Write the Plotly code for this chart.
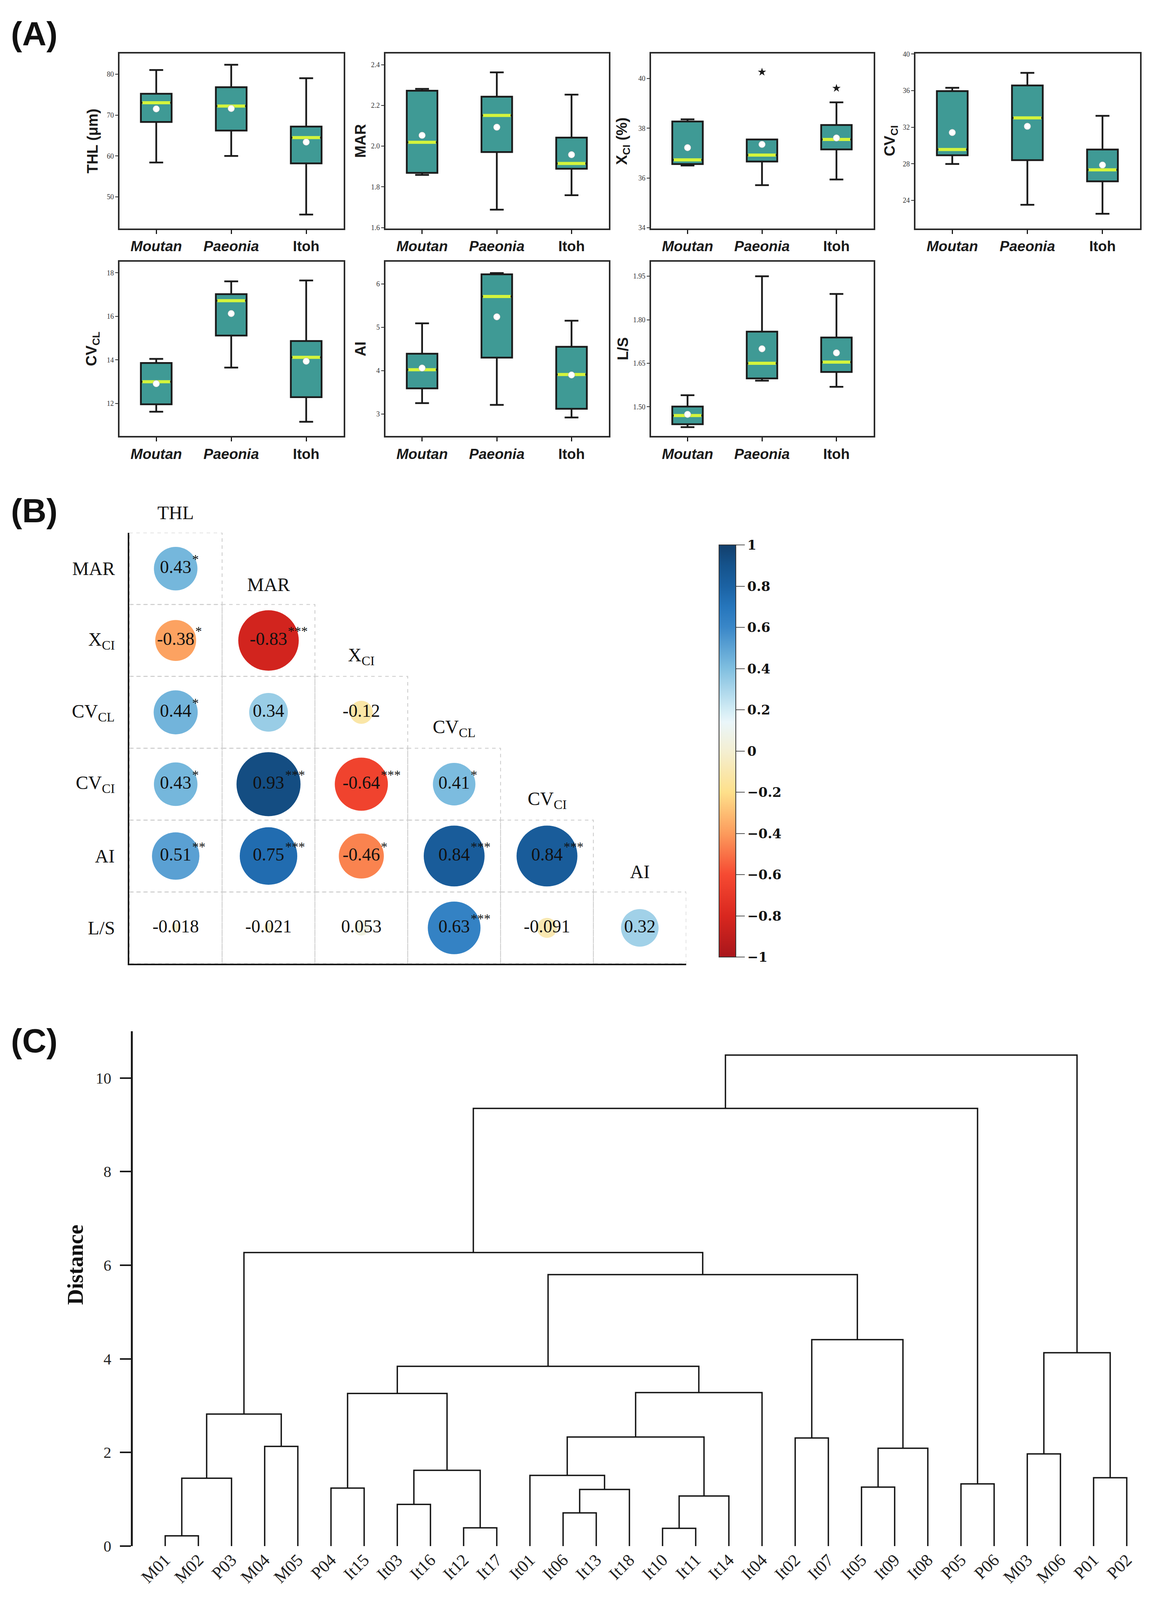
import math
import plotly.graph_objects as go

W, H = 2965, 4242


def fx(p):
    return p / W


def fy(p):
    return 1 - p / H


# ---------------- Panel A data (box statistics: Moutan, Paeonia, Itoh) ----------------
groups = ["Moutan", "Paeonia", "Itoh"]
group_ticktext = ["<b><i>Moutan</i></b>", "<b><i>Paeonia</i></b>", "<b>Itoh</b>"]

THL_lo = [58.4, 60.0, 45.7]
THL_q1 = [68.3, 66.2, 58.2]
THL_med = [73.0, 72.2, 64.5]
THL_q3 = [75.2, 76.8, 67.2]
THL_hi = [81.0, 82.3, 79.0]
THL_mean = [71.5, 71.6, 63.4]

MAR_lo = [1.859, 1.688, 1.759]
MAR_q1 = [1.869, 1.971, 1.889]
MAR_med = [2.019, 2.151, 1.915]
MAR_q3 = [2.272, 2.243, 2.042]
MAR_hi = [2.281, 2.362, 2.253]
MAR_mean = [2.053, 2.093, 1.958]

XCI_lo = [36.50, 35.71, 35.94]
XCI_q1 = [36.56, 36.66, 37.15]
XCI_med = [36.73, 36.92, 37.55]
XCI_q3 = [38.27, 37.55, 38.13]
XCI_hi = [38.36, 37.55, 39.04]
XCI_mean = [37.22, 37.35, 37.61]
XCI_out_group = [1, 2]
XCI_out_val = [40.26, 39.61]

CVCI_lo = [27.99, 23.52, 22.54]
CVCI_q1 = [28.93, 28.40, 26.09]
CVCI_med = [29.56, 33.02, 27.34]
CVCI_q3 = [35.95, 36.57, 29.56]
CVCI_hi = [36.31, 37.94, 33.25]
CVCI_mean = [31.42, 32.10, 27.87]

CVCL_lo = [11.62, 13.65, 11.16]
CVCL_q1 = [11.96, 15.12, 12.29]
CVCL_med = [13.00, 16.72, 14.12]
CVCL_q3 = [13.86, 17.02, 14.87]
CVCL_hi = [14.05, 17.61, 17.65]
CVCL_mean = [12.91, 16.13, 13.94]

AI_lo = [3.25, 3.21, 2.92]
AI_q1 = [3.59, 4.30, 3.12]
AI_med = [4.02, 5.71, 3.91]
AI_q3 = [4.39, 6.22, 4.55]
AI_hi = [5.09, 6.25, 5.15]
AI_mean = [4.06, 5.24, 3.90]

LS_lo = [1.430, 1.590, 1.569]
LS_q1 = [1.440, 1.598, 1.620]
LS_med = [1.470, 1.650, 1.654]
LS_q3 = [1.501, 1.759, 1.739]
LS_hi = [1.540, 1.950, 1.889]
LS_mean = [1.474, 1.700, 1.686]

# ---------------- Panel B data (correlation, lower triangle) ----------------
corr_rows = ["MAR", "X<sub>CI</sub>", "CV<sub>CL</sub>", "CV<sub>CI</sub>", "AI", "L/S"]
corr_cols = ["THL", "MAR", "X<sub>CI</sub>", "CV<sub>CL</sub>", "CV<sub>CI</sub>", "AI"]
corr_MAR = [0.43]
corr_XCI = [-0.38, -0.83]
corr_CVCL = [0.44, 0.34, -0.12]
corr_CVCI = [0.43, 0.93, -0.64, 0.41]
corr_AI = [0.51, 0.75, -0.46, 0.84, 0.84]
corr_LS = [-0.018, -0.021, 0.053, 0.63, -0.091, 0.32]
sig_MAR = ["*"]
sig_XCI = ["*", "***"]
sig_CVCL = ["*", "", ""]
sig_CVCI = ["*", "***", "***", "*"]
sig_AI = ["**", "***", "*", "***", "***"]
sig_LS = ["", "", "", "***", "", ""]
colorbar_ticks = [1, 0.8, 0.6, 0.4, 0.2, 0, -0.2, -0.4, -0.6, -0.8, -1]
colorbar_ticktext = ["1", "0.8", "0.6", "0.4", "0.2", "0", "−0.2", "−0.4", "−0.6", "−0.8", "−1"]

# ---------------- Panel C data (dendrogram) ----------------
leaves = ["M01", "M02", "P03", "M04", "M05", "P04", "It15", "It03", "It16", "It12",
          "It17", "It01", "It06", "It13", "It18", "It10", "It11", "It14", "It04", "It02",
          "It07", "It05", "It09", "It08", "P05", "P06", "M03", "M06", "P01", "P02"]
merge_left = ["M01", "#0", "M04", "#1", "P04", "It03", "It12", "#5", "#4", "It06",
              "#9", "It01", "It10", "#12", "#11", "#14", "#8", "It02", "It05", "#18",
              "#17", "#16", "#3", "P05", "#22", "M03", "P01", "#25", "#24"]
merge_right = ["M02", "P03", "M05", "#2", "It15", "It16", "It17", "#6", "#7", "It13",
               "It18", "#10", "It11", "It14", "#13", "It04", "#15", "It07", "It09", "It08",
               "#19", "#20", "#21", "P06", "#23", "M06", "P02", "#26", "#27"]
merge_height = [0.22, 1.45, 2.13, 2.82, 1.24, 0.89, 0.39, 1.62, 3.26, 0.71,
                1.21, 1.51, 0.38, 1.07, 2.33, 3.28, 3.84, 2.31, 1.26, 2.09,
                4.41, 5.80, 6.27, 1.33, 9.35, 1.97, 1.46, 4.13, 10.49]

TEAL = "#3f9a95"
MEDIAN_COL = "#d4f43c"
INK = "#1a1a1a"

fig = go.Figure()
layout = dict(width=W, height=H, margin=dict(l=0, r=0, t=0, b=0),
              paper_bgcolor="white", plot_bgcolor="white", showlegend=False)
annotations = []
shapes = []

# ---------------- Panel A ----------------
col_px = [(306, 880), (987, 1559), (1667, 2237), (2344, 2919)]
title_px = [237, 923, 1595, 2281]
row_px = [(134, 601), (690, 1156)]

panels = [
    ("THL (μm)", THL_lo, THL_q1, THL_med, THL_q3, THL_hi, THL_mean, None, None, (42.3, 85.0), 50, 10, "d", 0, 0),
    ("MAR", MAR_lo, MAR_q1, MAR_med, MAR_q3, MAR_hi, MAR_mean, None, None, (1.596, 2.454), 1.6, 0.2, ".1f", 0, 1),
    ("X<sub>CI</sub> (%)", XCI_lo, XCI_q1, XCI_med, XCI_q3, XCI_hi, XCI_mean, XCI_out_group, XCI_out_val, (33.97, 41.0), 34, 2, "d", 0, 2),
    ("CV<sub>CI</sub>", CVCI_lo, CVCI_q1, CVCI_med, CVCI_q3, CVCI_hi, CVCI_mean, None, None, (20.94, 40.04), 24, 4, "d", 0, 3),
    ("CV<sub>CL</sub>", CVCL_lo, CVCL_q1, CVCL_med, CVCL_q3, CVCL_hi, CVCL_mean, None, None, (10.5, 18.51), 12, 2, "d", 1, 0),
    ("AI", AI_lo, AI_q1, AI_med, AI_q3, AI_hi, AI_mean, None, None, (2.49, 6.51), 3, 1, "d", 1, 1),
    ("L/S", LS_lo, LS_q1, LS_med, LS_q3, LS_hi, LS_mean, None, None, (1.399, 2.0), 1.5, 0.15, ".2f", 1, 2),
]

xpos = list(range(len(groups)))
BOX_W = 0.41
for k, (title, lo, q1, med, q3, hi, mean, og, ov, yr, t0, dt, tf, r, c) in enumerate(panels, start=1):
    xa, ya = f"x{k}", f"y{k}"
    fig.add_trace(go.Box(x=xpos, q1=q1, median=med, q3=q3, lowerfence=lo, upperfence=hi,
                         fillcolor=TEAL, line=dict(color=INK, width=4.5), width=BOX_W,
                         whiskerwidth=0.45, boxpoints=False, hoverinfo="skip",
                         xaxis=xa, yaxis=ya))
    mx, my = [], []
    for i, m in zip(xpos, med):
        mx += [i - BOX_W / 2 + 0.02, i + BOX_W / 2 - 0.02, None]
        my += [m, m, None]
    fig.add_trace(go.Scatter(x=mx, y=my, mode="lines", line=dict(color=MEDIAN_COL, width=8),
                             hoverinfo="skip", xaxis=xa, yaxis=ya))
    fig.add_trace(go.Scatter(x=xpos, y=mean, mode="markers",
                             marker=dict(color="white", size=17, line=dict(color="#bbbbbb", width=1)),
                             hoverinfo="skip", xaxis=xa, yaxis=ya))
    if og is not None:
        fig.add_trace(go.Scatter(x=og, y=ov, mode="markers",
                                 marker=dict(color=INK, size=16, symbol="star"),
                                 hoverinfo="skip", xaxis=xa, yaxis=ya))
    x0, x1 = col_px[c]
    y0, y1 = row_px[r]
    kx = "xaxis" if k == 1 else f"xaxis{k}"
    ky = "yaxis" if k == 1 else f"yaxis{k}"
    layout[kx] = dict(domain=[fx(x0), fx(x1)], range=[-0.49, 2.5], anchor=ya,
                      tickvals=xpos, ticktext=group_ticktext,
                      tickfont=dict(family="Liberation Sans", size=37, color=INK),
                      ticks="outside", ticklen=10, tickwidth=3, tickcolor=INK,
                      showline=True, mirror=True, linecolor="#2a2a2a", linewidth=4,
                      showgrid=False, zeroline=False, fixedrange=True)
    layout[ky] = dict(domain=[fy(y1), fy(y0)], range=list(yr), anchor=xa,
                      tick0=t0, dtick=dt, tickformat=tf,
                      tickfont=dict(family="Liberation Serif", size=18, color="#333333"),
                      ticks="outside", ticklen=7, tickwidth=2, tickcolor="#333333",
                      showline=True, mirror=True, linecolor="#2a2a2a", linewidth=4,
                      showgrid=False, zeroline=False, fixedrange=True)
    annotations.append(dict(text=f"<b>{title}</b>", xref="paper", yref="paper",
                            x=fx(title_px[c]), y=fy((y0 + y1) / 2), textangle=-90,
                            xanchor="center", yanchor="middle", showarrow=False,
                            font=dict(family="Liberation Sans", size=38, color=INK)))

# ---------------- Panel B ----------------
GX0, GX1, GY0, GY1 = 331, 1757, 1414, 2566
CW, CH = (GX1 - GX0) / 6, (GY1 - GY0) / 6
corr_vals = [corr_MAR, corr_XCI, corr_CVCL, corr_CVCI, corr_AI, corr_LS]
corr_sigs = [sig_MAR, sig_XCI, sig_CVCL, sig_CVCI, sig_AI, sig_LS]
cs = [
    [0.00, "#a8161b"], [0.10, "#d9271f"], [0.20, "#f64a32"], [0.30, "#fc9b5c"],
    [0.40, "#fee08b"], [0.50, "#f4efd2"], [0.57, "#eaf6fa"], [0.60, "#d2ecf5"],
    [0.70, "#80bfe0"], [0.80, "#3a87c8"], [0.85, "#2676bc"], [0.90, "#1b62a3"],
    [0.95, "#15538c"], [1.00, "#123f6c"],
]
bx, by, bv, bs, bt = [], [], [], [], []
FONT_NUM = 46


def text_half_width(s, size):
    w = 0
    for ch in s:
        w += 0.25 if ch == "." else (0.333 if ch == "-" else 0.5)
    return w * size / 2


for r, (vals, sigs) in enumerate(zip(corr_vals, corr_sigs)):
    for c, (v, sgn) in enumerate(zip(vals, sigs)):
        bx.append(c + 0.5)
        by.append(r + 0.5)
        bv.append(v)
        bs.append(170 * math.sqrt(abs(v)))
        lab = f"{v:g}"
        bt.append(lab)
        shapes.append(dict(type="rect", xref="x8", yref="y8", x0=c, x1=c + 1, y0=r, y1=r + 1,
                           line=dict(color="#c9c9c9", width=2, dash="dash"), layer="below"))
        if sgn:
            annotations.append(dict(text=sgn, xref="x8", yref="y8", x=c + 0.5, y=r + 0.5,
                                    xanchor="left", yanchor="middle",
                                    xshift=text_half_width(lab, FONT_NUM), yshift=24,
                                    showarrow=False,
                                    font=dict(family="Liberation Serif", size=34, color="#111")))

fig.add_trace(go.Scatter(
    x=bx, y=by, mode="markers+text", text=bt, textposition="middle center",
    textfont=dict(family="Liberation Serif", size=FONT_NUM, color="#111"),
    marker=dict(size=bs, color=bv, colorscale=cs, cmin=-1, cmax=1, line=dict(width=0),
                opacity=1,
                colorbar=dict(x=fx(1841), xanchor="left", y=fy((1447 + 2548) / 2), yanchor="middle",
                              len=(2548 - 1447) / H, lenmode="fraction", thickness=43,
                              thicknessmode="pixels", xpad=0, ypad=0,
                              outlinewidth=2, outlinecolor="#333",
                              tickvals=colorbar_ticks, ticktext=colorbar_ticktext,
                              ticks="outside", ticklen=22, tickwidth=2, tickcolor="#555",
                              tickfont=dict(family="DejaVu Serif", size=34, color="#111",
                                            weight="bold"))),
    hoverinfo="skip", xaxis="x8", yaxis="y8"))

layout["xaxis8"] = dict(domain=[fx(GX0), fx(GX1)], range=[0, 6], anchor="y8",
                        showline=True, linecolor=INK, linewidth=4, showticklabels=False,
                        ticks="", showgrid=False, zeroline=False, fixedrange=True)
layout["yaxis8"] = dict(domain=[fy(GY1), fy(GY0)], range=[6, 0], anchor="x8",
                        showline=True, linecolor=INK, linewidth=4, showticklabels=False,
                        ticks="", showgrid=False, zeroline=False, fixedrange=True)
for r, lab in enumerate(corr_rows):
    annotations.append(dict(text=lab, xref="paper", yref="paper", x=fx(GX0 - 35),
                            y=fy(GY0 + CH * (r + 0.5)),
                            xanchor="right", yanchor="middle", showarrow=False,
                            font=dict(family="Liberation Serif", size=48, color="#111")))
for c, lab in enumerate(corr_cols):
    annotations.append(dict(text=lab, xref="paper", yref="paper", x=fx(GX0 + CW * (c + 0.5)),
                            y=fy(GY0 + CH * (c - 0.28)),
                            xanchor="center", yanchor="middle", showarrow=False,
                            font=dict(family="Liberation Serif", size=48, color="#111")))

# ---------------- Panel C ----------------
pos = {name: (i, 0.0) for i, name in enumerate(leaves)}
lx, ly = [], []
for k, (a, b, h) in enumerate(zip(merge_left, merge_right, merge_height)):
    xa_, ya_ = pos[a]
    xb_, yb_ = pos[b]
    lx += [xa_, xa_, xb_, xb_, None]
    ly += [ya_, h, h, yb_, None]
    pos[f"#{k}"] = ((xa_ + xb_) / 2, h)
fig.add_trace(go.Scatter(x=lx, y=ly, mode="lines", line=dict(color="#151515", width=3.5),
                         hoverinfo="skip", xaxis="x9", yaxis="y9"))

leaf_x0, leaf_dx = 423, (2885 - 423) / (len(leaves) - 1)
layout["xaxis9"] = dict(domain=[fx(340), fx(2940)],
                        range=[-(leaf_x0 - 340) / leaf_dx, (len(leaves) - 1) + (2940 - 2885) / leaf_dx],
                        anchor="y9", tickvals=list(range(len(leaves))), ticktext=leaves,
                        tickangle=-45, tickfont=dict(family="Liberation Serif", size=44, color="#222"),
                        ticks="", showline=False, showgrid=False, zeroline=False, fixedrange=True)
layout["yaxis9"] = dict(domain=[fy(4122), fy(2746)], range=[0, 11], anchor="x9",
                        tick0=0, dtick=2, ticks="outside", ticklen=28, tickwidth=4, tickcolor=INK,
                        ticklabelstandoff=14,
                        tickfont=dict(family="Liberation Serif", size=40, color="#222"),
                        showline=True, linecolor=INK, linewidth=5,
                        showgrid=False, zeroline=False, fixedrange=True)
annotations.append(dict(text="<b>Distance</b>", xref="paper", yref="paper", x=fx(193), y=fy(3371),
                        textangle=-90, xanchor="center", yanchor="middle", showarrow=False,
                        font=dict(family="Liberation Serif", size=56, color="#111")))

# ---------------- Panel labels ----------------
for lab, ypx in [("(A)", 80), ("(B)", 1355), ("(C)", 2771)]:
    annotations.append(dict(text=f"<b>{lab}</b>", xref="paper", yref="paper", x=fx(26), y=fy(ypx),
                            xanchor="left", yanchor="middle", showarrow=False,
                            font=dict(family="Liberation Sans", size=86, color="#111")))

layout["annotations"] = annotations
layout["shapes"] = shapes
fig.update_layout(**layout)

fit_script = """
document.body.style.margin = '0';
document.documentElement.style.overflow = 'hidden';
document.body.style.overflow = 'hidden';
var gd = document.getElementById('{plot_id}');
Plotly.relayout(gd, {width: document.documentElement.clientWidth || window.innerWidth,
                     height: window.innerHeight});
"""
fig.write_html("out.html", post_script=fit_script, config={"displayModeBar": False})
